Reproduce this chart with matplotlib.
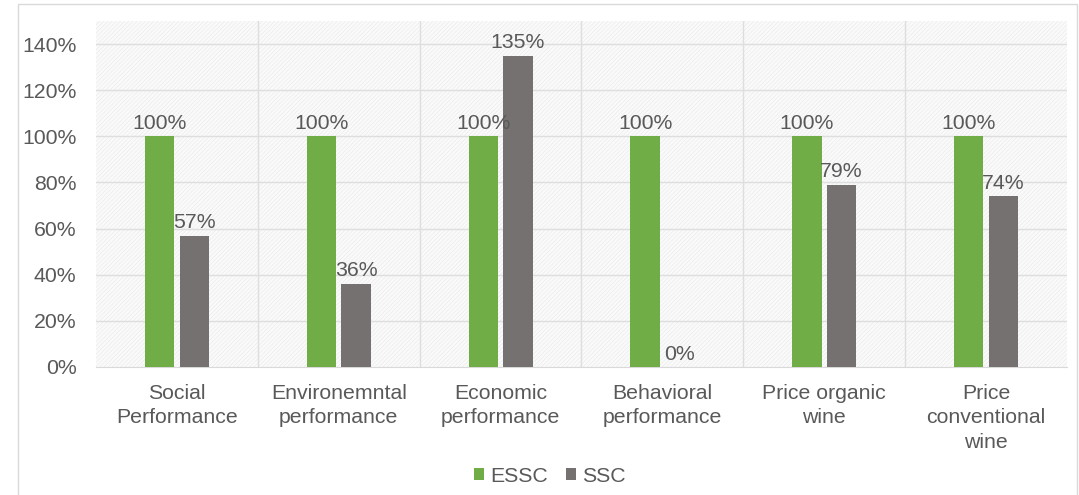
import matplotlib
matplotlib.use("Agg")
import matplotlib.pyplot as plt
from matplotlib.patches import Rectangle
import numpy as np

categories = ["Social\nPerformance", "Environemntal\nperformance", "Economic\nperformance",
              "Behavioral\nperformance", "Price organic\nwine", "Price\nconventional\nwine"]
essc = [100, 100, 100, 100, 100, 100]
ssc = [57, 36, 135, 0, 79, 74]
yticks = [0, 20, 40, 60, 80, 100, 120, 140]

plt.rcParams['font.family'] = ['Liberation Sans', 'DejaVu Sans']
plt.rcParams['hatch.color'] = '#ECECEC'
plt.rcParams['hatch.linewidth'] = 0.5

TXT = '#595959'
GREEN = '#70AD47'
GRAY = '#767171'
FS = 15.3

fig = plt.figure(figsize=(10.79, 4.95), dpi=100)
ax = fig.add_axes([96/1079, 1-367/495, (1067-96)/1079, (367-21)/495])

# outer chart border
fig.patches.append(Rectangle((18/1079, -0.01), (1077-18)/1079, 1-4/495+0.01,
                             transform=fig.transFigure, fill=False,
                             edgecolor='#D9D9D9', linewidth=1, zorder=0))

x = np.arange(len(categories))
w = 0.182
off = 0.107

ax.add_patch(Rectangle((0, 0), 1, 1, transform=ax.transAxes, facecolor='#FAFAFA',
                       hatch='////////', edgecolor='#ECECEC', linewidth=0, zorder=0))

b1 = ax.bar(x - off, essc, w, color=GREEN, zorder=3, label='ESSC')
b2 = ax.bar(x + off, ssc, w, color=GRAY, zorder=3, label='SSC')

for xi, v in zip(x - off, essc):
    ax.text(xi, v + 1.5, f"{v}%", ha='center', va='bottom', fontsize=FS, color=TXT, zorder=4)
for xi, v in zip(x + off, ssc):
    ax.text(xi, v + 1.5, f"{v}%", ha='center', va='bottom', fontsize=FS, color=TXT, zorder=4)

ax.set_xlim(-0.5, len(categories) - 0.5)
ax.set_ylim(0, 150)
ax.set_yticks(yticks)
ax.set_yticklabels([f"{t}%" for t in yticks])
ax.set_xticks(x)
ax.set_xticklabels(categories)
for lbl in ax.get_xticklabels():
    lbl.set_linespacing(1.38)
ax.tick_params(axis='both', length=0, labelsize=FS, colors=TXT)
ax.tick_params(axis='y', pad=14)
ax.tick_params(axis='x', pad=12)

for t in yticks[1:]:
    ax.axhline(t, color='#DEDEDE', linewidth=1, zorder=1)
for b in np.arange(0.5, len(categories) - 0.5, 1):
    ax.axvline(b, color='#DEDEDE', linewidth=1, zorder=1)

for s in ['top', 'right', 'left']:
    ax.spines[s].set_visible(False)
ax.spines['bottom'].set_color('#D9D9D9')
ax.spines['bottom'].set_zorder(2)

fig.legend(handles=[b1, b2], labels=['ESSC', 'SSC'], loc='center',
           bbox_to_anchor=(550/1079, 1-476/495), ncol=2, frameon=False,
           fontsize=FS, labelcolor=TXT, handlelength=0.48, handleheight=0.48,
           handletextpad=0.28, columnspacing=0.85)

fig.savefig('out.png', dpi=100, facecolor='white')
